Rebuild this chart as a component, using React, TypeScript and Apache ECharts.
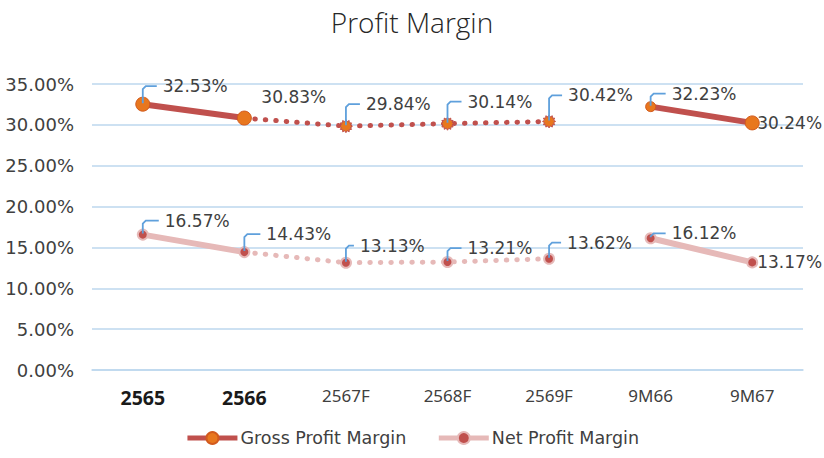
import React, { useEffect, useRef } from "react";
import * as echarts from "echarts";

const categories = ["2565", "2566", "2567F", "2568F", "2569F", "9M66", "9M67"];
const boldCategories = ["2565", "2566"];
const grossActual = [32.53, 30.83, null, null, null, 32.23, 30.24];
const grossForecast = [null, 30.83, 29.84, 30.14, 30.42, null, null];
const netActual = [16.57, 14.43, null, null, null, 16.12, 13.17];
const netForecast = [null, 14.43, 13.13, 13.21, 13.62, null, null];
const yTicks = { min: 0, max: 35, interval: 5 };

// label layout (styling only)
const grossLabelOffsets = [[20, -18], [17, -21], [20, -22], [20, -22], [19, -26], [21, -13], [5, 0]];
const grossLeaders = [true, false, true, true, true, true, false];
const netLabelOffsets = [[22, -14], [22, -18], [14, -17], [20, -14], [18, -16], [21, -5], [5, 0]];
const netLeaders = [true, true, true, true, true, true, false];

const RED = "#C0504D";
const ORANGE = "#E8771E";
const PINK = "#E6B9B8";
const GRID = "#BDD7EE";
const TEXT = "#404040";
const LEADER = "#5FA0DC";
const FONT = "DejaVu Sans";

function gearPath(): string {
  const n = 12;
  const pts: string[] = [];
  for (let k = 0; k < n * 2; k++) {
    const r = k % 2 === 0 ? 50 : 36;
    const a = (Math.PI * k) / n;
    const x = 50 + r * Math.cos(a);
    const y = 50 + r * Math.sin(a);
    pts.push(`${k === 0 ? "M" : "L"}${x.toFixed(2)} ${y.toFixed(2)}`);
  }
  return "path://" + pts.join(" ") + " Z";
}

function labelSeries(name: string, values: (number | null)[], offsets: number[][], leaders: boolean[]) {
  return {
    type: "custom",
    name,
    coordinateSystem: "cartesian2d",
    clip: false,
    z: 10,
    silent: true,
    encode: { x: 0, y: 1 },
    data: values.map((v, i) => [i, v]),
    renderItem: (params: any, api: any) => {
      const idx = api.value(0);
      const val = api.value(1);
      const p = api.coord([idx, val]);
      const [dx, dy] = offsets[idx];
      const tx = p[0] + dx;
      const ty = p[1] + dy;
      const children: any[] = [];
      if (leaders[idx]) {
        children.push({
          type: "polyline",
          shape: {
            points: [
              [p[0], p[1] - 1],
              [p[0], ty + 3],
              [p[0] + 3, ty],
              [tx - 6, ty],
            ],
          },
          style: { stroke: LEADER, lineWidth: 1.8, fill: null },
        });
      }
      children.push({
        type: "text",
        x: tx,
        y: ty,
        style: {
          text: Number(val).toFixed(2) + "%",
          fill: TEXT,
          fontSize: 17,
          fontFamily: FONT,
          align: "left",
          verticalAlign: "middle",
        },
      });
      return { type: "group", children };
    },
  };
}

export default function App() {
  const ref = useRef<HTMLDivElement>(null);
  useEffect(() => {
    if (!ref.current) return;
    const chart = echarts.init(ref.current, null, { renderer: "svg" });
    const gear = gearPath();
    const grossAll = categories.map((_, i) => (grossActual[i] ?? grossForecast[i]) as number);
    const netAll = categories.map((_, i) => (netActual[i] ?? netForecast[i]) as number);

    chart.setOption({
      animation: false,
      backgroundColor: "#ffffff",
      title: {
        text: "Profit Margin",
        left: "center",
        top: 3,
        textStyle: { fontSize: 28, fontWeight: 300, color: "#262626", fontFamily: "Open Sans" },
      },
      grid: { left: 92, right: 21, top: 84, bottom: 88, containLabel: false },
      legend: {
        bottom: 6,
        left: "center",
        itemWidth: 50,
        itemHeight: 15,
        itemGap: 30,
        lineStyle: { width: 5 },
        data: [{ name: "Gross Profit Margin" }, { name: "Net Profit Margin" }],
        textStyle: { fontSize: 17.5, color: TEXT, fontFamily: FONT, padding: [0, 0, 0, -2] },
      },
      xAxis: {
        type: "category",
        data: categories,
        boundaryGap: true,
        axisLine: { show: true, lineStyle: { color: GRID, width: 1.5 } },
        axisTick: { show: false },
        axisLabel: {
          margin: 17,
          formatter: (v: string) => (boldCategories.includes(v) ? `{b|${v}}` : `{n|${v}}`),
          rich: {
            b: { fontSize: 19.5, fontWeight: "bold", color: "#1a1a1a", fontFamily: "Noto Sans" },
            n: { fontSize: 17, color: TEXT, fontFamily: "Noto Sans" },
          },
        },
      },
      yAxis: {
        type: "value",
        min: yTicks.min,
        max: yTicks.max,
        interval: yTicks.interval,
        axisLine: { show: false },
        axisTick: { show: false },
        splitLine: { lineStyle: { color: GRID, width: 1.5 } },
        axisLabel: {
          margin: 18,
          fontSize: 18,
          color: TEXT,
          fontFamily: FONT,
          formatter: (v: number) => v.toFixed(2) + "%",
        },
      },
      series: [
        {
          type: "line",
          name: "Net Profit Margin",
          data: netActual,
          connectNulls: false,
          symbol: "circle",
          symbolSize: 10,
          lineStyle: { color: PINK, width: 6 },
          itemStyle: { color: RED, borderColor: PINK, borderWidth: 2 },
          z: 3,
        },
        {
          type: "line",
          name: "Net Profit Margin",
          data: netForecast.map((v, i) => (i === 1 ? { value: v, symbol: "none" } : v)),
          symbol: "circle",
          symbolSize: 10,
          lineStyle: { color: PINK, width: 5, type: [0.5, 10], cap: "round" },
          itemStyle: { color: RED, borderColor: PINK, borderWidth: 2 },
          z: 2,
        },
        {
          type: "line",
          name: "Gross Profit Margin",
          data: grossActual.map((v, i) => (i === 5 ? { value: v, symbolSize: 10 } : v)),
          connectNulls: false,
          symbol: "circle",
          symbolSize: 14,
          lineStyle: { color: RED, width: 6 },
          itemStyle: { color: ORANGE, borderColor: "#D25A1E", borderWidth: 1 },
          z: 5,
        },
        {
          type: "line",
          name: "Gross Profit Margin",
          data: grossForecast.map((v, i) => (i === 1 ? { value: v, symbol: "none" } : v)),
          symbol: gear,
          symbolSize: 13,
          lineStyle: { color: RED, width: 5, type: [0.5, 10], cap: "round" },
          itemStyle: { color: ORANGE, borderColor: RED, borderWidth: 1 },
          z: 4,
        },
        labelSeries("grossLabels", grossAll, grossLabelOffsets, grossLeaders),
        labelSeries("netLabels", netAll, netLabelOffsets, netLeaders),
      ],
    });
    return () => chart.dispose();
  }, []);
  return <div ref={ref} style={{ width: 824, height: 458, position: "absolute", left: 0, top: 0 }} />;
}
